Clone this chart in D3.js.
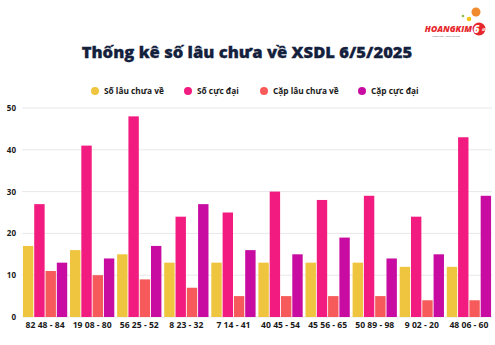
<!DOCTYPE html>
<html>
<head>
<meta charset="utf-8">
<script src="https://cdn.jsdelivr.net/npm/d3@7"></script>
<style>
  html, body { margin: 0; padding: 0; background: #fff; }
  svg { display: block; font-family: "Open Sans", "Noto Sans", sans-serif; }
</style>
</head>
<body>
<svg id="chart" width="495" height="345"></svg>
<script>
// Categories (number + pair) and the four series
const categories = ["82 48 - 84", "19 08 - 80", "56 25 - 52", "8 23 - 32", "7 14 - 41",
                    "40 45 - 54", "45 56 - 65", "50 89 - 98", "9 02 - 20", "48 06 - 60"];
const soLauChuaVe   = [17, 16, 15, 13, 13, 13, 13, 13, 12, 12];
const soCucDai      = [27, 41, 48, 24, 25, 30, 28, 29, 24, 43];
const capLauChuaVe  = [11, 10, 9, 7, 5, 5, 5, 5, 4, 4];
const capCucDai     = [13, 14, 17, 27, 16, 15, 19, 14, 15, 29];
const seriesNames   = ["Số lâu chưa về", "Số cực đại", "Cặp lâu chưa về", "Cặp cực đại"];
const seriesColors  = ["#EFC43E", "#F21B7F", "#F65A5A", "#C80CA2"];
const yTicks        = [0, 10, 20, 30, 40, 50];

const seriesValues = [soLauChuaVe, soCucDai, capLauChuaVe, capCucDai];
const svg = d3.select("#chart");

const margin = { left: 22, right: 3, top: 108, bottom: 28 };
const W = 495, H = 345;

const x0 = d3.scaleBand().domain(categories)
  .range([margin.left, W - margin.right]).paddingInner(0.06).paddingOuter(0.02);
const x1 = d3.scaleBand().domain(d3.range(4)).range([0, x0.bandwidth()]).paddingInner(0.08);
const y = d3.scaleLinear().domain([0, 50]).range([H - margin.bottom, margin.top]);

// Gridlines
svg.append("g").selectAll("line").data(yTicks).join("line")
  .attr("x1", margin.left).attr("x2", W - 3)
  .attr("y1", d => y(d)).attr("y2", d => y(d))
  .attr("stroke", "#e8e8ec").attr("stroke-width", 1);

// Y axis labels
const yAxis = d3.axisLeft(y).tickValues(yTicks).tickSize(0).tickPadding(0);
const gy = svg.append("g").attr("transform", "translate(16,0)").call(yAxis);
gy.select(".domain").remove();
gy.selectAll("text").attr("font-size", 8).attr("font-weight", 700)
  .attr("fill", "#1a1a1a").attr("font-family", "\"Open Sans\", sans-serif");

// Bars
const groups = svg.append("g").selectAll("g").data(categories).join("g")
  .attr("transform", d => `translate(${x0(d)},0)`);
groups.selectAll("rect").data((d, i) => seriesValues.map((s, k) => ({ k, v: s[i] })))
  .join("rect")
  .attr("x", d => x1(d.k)).attr("width", x1.bandwidth())
  .attr("y", d => y(d.v)).attr("height", d => y(0) - y(d.v))
  .attr("fill", d => seriesColors[d.k]);

// X axis labels
const xAxis = d3.axisBottom(x0).tickSize(0).tickPadding(5);
const gx = svg.append("g").attr("transform", `translate(0,${y(0)})`).call(xAxis);
gx.select(".domain").remove();
gx.selectAll("text").attr("font-size", 8.6).attr("font-weight", 700)
  .attr("fill", "#1a1a1a").attr("font-family", "\"Open Sans\", sans-serif");

// Title
svg.append("text").attr("x", 247).attr("y", 58).attr("text-anchor", "middle")
  .attr("font-size", 16.6).attr("font-weight", 800).attr("fill", "#14213d")
  .attr("font-family", "\"Open Sans\", sans-serif")
  .attr("stroke", "#14213d").attr("stroke-width", 0.3)
  .text("Thống kê số lâu chưa về XSDL 6/5/2025");

// Legend
const legendX = [95, 188, 264, 362];
const lg = svg.append("g").selectAll("g").data(seriesNames).join("g")
  .attr("transform", (d, i) => `translate(${legendX[i]},91)`);
lg.append("circle").attr("r", 4).attr("fill", (d, i) => seriesColors[i]);
lg.append("text").attr("x", 9).attr("y", 3).attr("font-size", 8.3).attr("font-weight", 700)
  .attr("fill", "#1a1a1a").text(d => d);

// Brand mark in the corner
const logo = svg.append("g");
logo.append("circle").attr("cx", 476).attr("cy", 12).attr("r", 4.5).attr("fill", "#F08A2E");
logo.append("circle").attr("cx", 469).attr("cy", 19).attr("r", 2.3).attr("fill", "#F5C518");
logo.append("circle").attr("cx", 463).attr("cy", 16).attr("r", 1.3).attr("fill", "#8BC34A");
logo.append("circle").attr("cx", 479).attr("cy", 29).attr("r", 6.5).attr("fill", "#E6262B");
logo.append("text").attr("x", 476.5).attr("y", 33).attr("text-anchor", "middle")
  .attr("font-size", 10).attr("font-weight", 800).attr("font-style", "italic")
  .attr("fill", "#fff").text("6");
logo.append("text").attr("x", 482).attr("y", 31).attr("font-size", 3.5).attr("font-weight", 700)
  .attr("fill", "#fff").text("45");
logo.append("text").attr("x", 472).attr("y", 32).attr("text-anchor", "end")
  .attr("font-size", 8.5).attr("font-weight", 800).attr("font-style", "italic")
  .attr("fill", "#E6262B").text("HOANGKIM");
logo.append("text").attr("x", 446).attr("y", 37).attr("text-anchor", "middle")
  .attr("font-size", 2.2).attr("fill", "#555").text("Nhanh hơn · Chính xác hơn");
</script>
</body>
</html>
